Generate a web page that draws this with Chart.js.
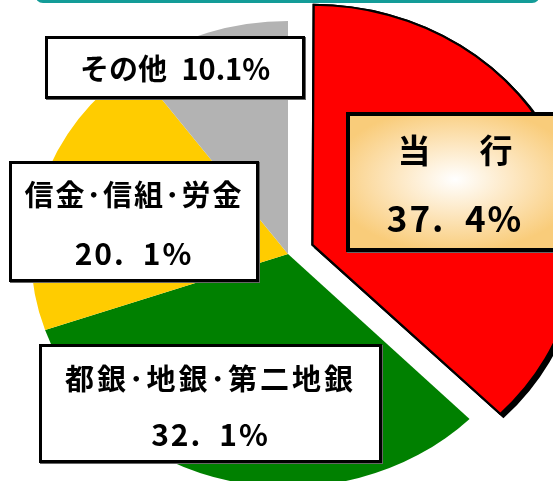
<!DOCTYPE html>
<html lang="ja">
<head>
<meta charset="UTF-8">
<title>シェア</title>
<script src="https://cdn.jsdelivr.net/npm/chart.js"></script>
<style>
    html, body {
        margin: 0;
        padding: 0;
        width: 553px;
        height: 481px;
        overflow: hidden;
        background: #fff;
        font-family: "Noto Sans CJK JP", "Noto Sans", sans-serif;
    }
    #wrap {
        position: relative;
        width: 553px;
        height: 481px;
        overflow: hidden;
    }
    #pie {
        position: absolute;
        left: 0;
        top: 0;
    }
    .topbar {
        position: absolute;
        left: 35px;
        top: -20px;
        width: 505px;
        height: 23px;
        border: 3px solid #139c98;
        border-radius: 8px;
        box-sizing: border-box;
    }
    .box {
        position: absolute;
        box-sizing: border-box;
        border: 3px solid #000;
        background: #fff;
        text-align: center;
        color: #000;
        box-shadow: 1px 1px 0 #666;
        white-space: nowrap;
    }
    .box .name { font-weight: 700; font-size: 29px; }
    .box .pct { font-weight: 700; font-size: 30px; letter-spacing: 2px; }
</style>
</head>
<body>
<div id="wrap">
    <div class="topbar"></div>
    <canvas id="pie" width="553" height="481"></canvas>
</div>
<script>
    // 貸出シェア（％）
    const names = ['当　行', '都銀･地銀･第二地銀', '信金･信組･労金', 'その他'];
    const shares = [37.4, 32.1, 20.1, 10.1];
    const colors = ['#ff0000', '#008000', '#ffcc00', '#b3b3b3'];

    const cx = 288;        // 円の中心x（横長の楕円）
    const stretchX = 1.103;

    // 楕円化 + 当行の影
    const ovalPlugin = {
        id: 'oval',
        beforeDatasetsDraw(chart) {
            const ctx = chart.ctx;
            ctx.save();
            ctx.translate(cx, 0);
            ctx.scale(stretchX, 1);
            ctx.translate(-cx, 0);
            const arc = chart.getDatasetMeta(0).data[0];
            ctx.save();
            ctx.shadowColor = '#000';
            ctx.shadowOffsetX = 3;
            ctx.shadowOffsetY = 3;
            ctx.shadowBlur = 0;
            arc.draw(ctx);
            ctx.restore();
        },
        afterDatasetsDraw(chart) {
            chart.ctx.restore();
        }
    };

    const ctx = document.getElementById('pie').getContext('2d');
    new Chart(ctx, {
        type: 'pie',
        data: {
            labels: names,
            datasets: [{
                data: shares,
                backgroundColor: colors,
                borderColor: '#000',
                borderWidth: [2, 0, 0, 0],
                borderJoinStyle: 'miter',
                offset: [96, 0, 0, 0],   // v4 では描画時に 1/4
                radius: 233,
                clip: false
            }]
        },
        options: {
            responsive: false,
            animation: false,
            devicePixelRatio: 1,
            layout: { padding: { left: 23, top: 27, right: 0, bottom: 0 } },
            plugins: {
                legend: { display: false },
                tooltip: { enabled: false }
            }
        },
        plugins: [ovalPlugin]
    });

    // ラベル枠
    const wide = v => v.toFixed(1).replace('.', '.\u2002') + '%';
    const wrap = document.getElementById('wrap');
    function addBox(css, html) {
        const d = document.createElement('div');
        d.className = 'box';
        d.style.cssText = css;
        d.innerHTML = html;
        wrap.appendChild(d);
        return d;
    }

    // 当行
    addBox('left:346px;top:112px;width:218px;height:140px;border-width:4px;line-height:67px;' +
        'background:radial-gradient(ellipse 60% 55% at 50% 48%, #ffffff 0%, #fde8c4 45%, #f9cc7a 100%);',
        `<div class="name" style="font-size:33px;letter-spacing:8px;padding-left:8px">${names[0]}</div>` +
        `<div class="pct" style="font-size:35px">${wide(shares[0])}</div>`);

    // 都銀・地銀・第二地銀
    addBox('left:39px;top:344px;width:343px;height:119px;line-height:56px;padding-top:2px;',
        `<div class="name" style="letter-spacing:3px">${names[1]}</div>` +
        `<div class="pct">${wide(shares[1])}</div>`);

    // 信金・信組・労金
    addBox('left:9px;top:161px;width:250px;height:121px;line-height:59px;',
        `<div class="name" style="letter-spacing:2px">${names[2]}</div>` +
        `<div class="pct">${wide(shares[2])}</div>`);

    // その他
    addBox('left:45px;top:36px;width:260px;height:63px;line-height:57px;',
        `<div class="name" style="font-size:29px">${names[3]}\u2002${shares[3].toFixed(1)}%</div>`);
</script>
</body>
</html>
